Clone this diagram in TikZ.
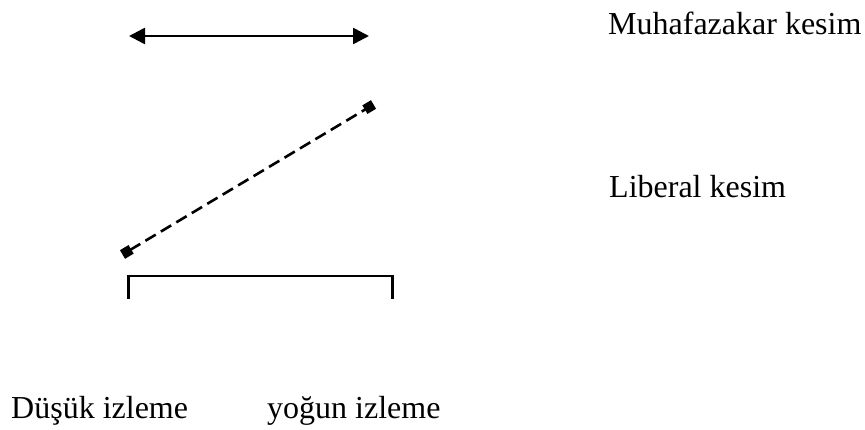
\documentclass[tikz,border=0pt]{standalone}
\usepackage{fontspec}
\setmainfont{Liberation Serif}
\usetikzlibrary{arrows.meta}

\begin{document}
\begin{tikzpicture}[x=1pt,y=-1pt,
    lbl/.style={anchor=base west,inner sep=0pt,font=\fontsize{32}{38}\selectfont},
    thick line/.style={line width=2.6pt}]
                      \useasboundingbox (0,0) rectangle (865,430);
                      \node[lbl] (muhafazakar) at (608,35) {Muhafazakar kesim};
                      \node[lbl] (liberal) at (609,198) {Liberal kesim};
                      \node[lbl] (dusuk) at (11,418) {Düşük izleme};
                      \node[lbl] (yogun) at (267,418) {yoğun izleme};
                      \coordinate (arrowL) at (129,36);
                      \coordinate (arrowR) at (369,36);
                      \draw[thick line, {Triangle[length=16pt,width=16pt]}-{Triangle[length=16pt,width=16pt]}] (arrowL) -- (arrowR);
                      \coordinate (lowpt) at (122.5,254.5);
                      \coordinate (highpt) at (373.5,104.5);
                      \draw[thick line, dash pattern=on 12pt off 6pt, {Square[length=10pt,width=10pt]}-{Square[length=10pt,width=10pt]}] (lowpt) -- (highpt);
                      \coordinate (bracketL) at (128.5,299);
                      \coordinate (bracketR) at (392.5,299);
                      \draw[line width=2.6pt] (bracketL) |- (260,276) -| (bracketR);
\end{tikzpicture}
\end{document}
